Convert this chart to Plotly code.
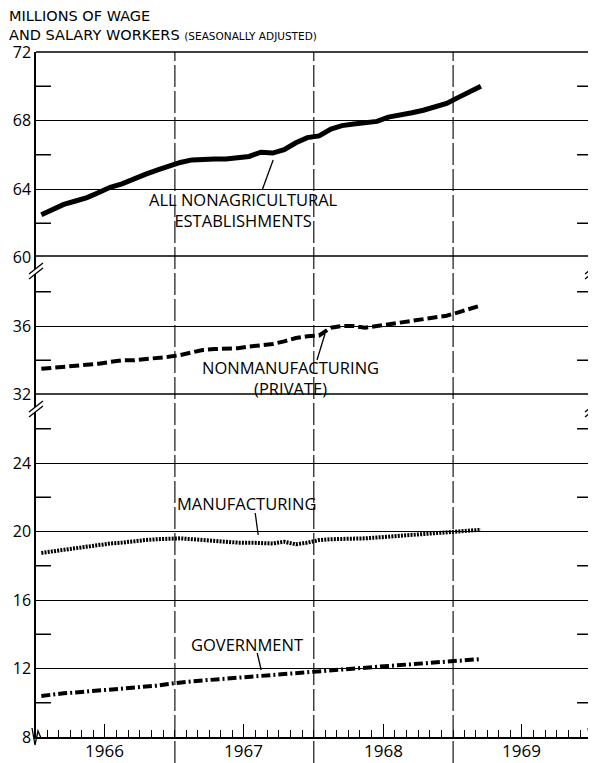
import pandas as pd
import plotly.graph_objects as go
from plotly.subplots import make_subplots

# ---- data (millions, monthly, Jan 1966 - Mar 1969) ----
months = (pd.date_range("1966-01-01", periods=39, freq="MS") + pd.Timedelta(days=14)).strftime("%Y-%m-%d").tolist()

total_nonag = [62.5, 62.8, 63.1, 63.3, 63.5, 63.8, 64.1, 64.3, 64.6, 64.85, 65.1, 65.35,
               65.55, 65.7, 65.75, 65.75, 65.75, 65.8, 65.9, 66.15, 66.1, 66.3, 66.7, 67.0,
               67.1, 67.5, 67.7, 67.8, 67.9, 67.95, 68.2, 68.3, 68.45, 68.6, 68.8, 69.0,
               69.35, 69.7, 70.0]
nonmfg_private = [33.5, 33.55, 33.6, 33.7, 33.75, 33.8, 33.9, 34.0, 34.0, 34.05, 34.1, 34.2,
                  34.3, 34.45, 34.6, 34.65, 34.65, 34.7, 34.8, 34.85, 34.95, 35.1, 35.3, 35.4,
                  35.45, 35.9, 36.0, 36.0, 35.9, 36.0, 36.1, 36.2, 36.3, 36.4, 36.5, 36.6,
                  36.8, 37.0, 37.2]
manufacturing = [18.75, 18.85, 18.95, 19.05, 19.1, 19.2, 19.3, 19.35, 19.45, 19.5, 19.55, 19.6,
                 19.6, 19.55, 19.5, 19.45, 19.4, 19.35, 19.35, 19.35, 19.3, 19.4, 19.25, 19.35,
                 19.5, 19.55, 19.55, 19.6, 19.6, 19.65, 19.7, 19.7, 19.75, 19.8, 19.85, 19.9,
                 19.95, 20.05, 20.1]
government = [10.4, 10.5, 10.55, 10.6, 10.65, 10.7, 10.75, 10.85, 10.9, 10.95, 11.0, 11.1,
              11.2, 11.25, 11.3, 11.35, 11.4, 11.45, 11.5, 11.55, 11.6, 11.65, 11.7, 11.8,
              11.85, 11.9, 11.95, 12.0, 12.05, 12.1, 12.15, 12.2, 12.25, 12.3, 12.35, 12.4,
              12.45, 12.5, 12.55]

top_ticks = [60, 64, 68, 72]
mid_ticks = [32, 36]
bot_ticks = [8, 12, 16, 20, 24]
top_minor = [62, 66, 70]
mid_minor = [34, 38]
bot_minor = [10, 14, 18, 22, 26]
year_bounds = ["1967-01-01", "1968-01-01", "1969-01-01"]
year_mids = ["1966-07-01", "1967-07-01", "1968-07-01", "1969-07-01"]
year_labels = ["1966", "1967", "1968", "1969"]

FONT = "Open Sans"
TFONT = "DejaVu Sans"
# page has an 8px body margin; plot area targets page pixels x 36..594, y 52..737
OFF = 8
W, H = 588, 755
L, R, T, B = 36 - OFF, 2, 52 - OFF, 26
PX0, PX1, PY0, PY1 = 36, 594, 52, 737

def px(x):
    return (x - PX0) / (PX1 - PX0)

def py(y):
    return (PY1 - y) / (PY1 - PY0)

fig = make_subplots(rows=3, cols=1, shared_xaxes=True, vertical_spacing=0,
                    row_heights=[12, 8, 20])

fig.add_trace(go.Scatter(x=months, y=total_nonag, mode="lines",
                         line=dict(color="black", width=5)), row=1, col=1)
fig.add_trace(go.Scatter(x=months, y=nonmfg_private, mode="lines",
                         line=dict(color="black", width=4, dash="10px,4px")), row=2, col=1)
fig.add_trace(go.Scatter(x=months, y=manufacturing, mode="lines",
                         line=dict(color="black", width=4, dash="2px,1.2px")), row=3, col=1)
fig.add_trace(go.Scatter(x=months, y=government, mode="lines",
                         line=dict(color="black", width=4, dash="9px,3px,2px,3px")), row=3, col=1)

xr = ["1966-01-01", "1970-01-01"]
for i in (1, 2):
    fig.update_xaxes(row=i, col=1, range=xr, showgrid=False, showline=False, zeroline=False,
                     showticklabels=False, ticks="")
fig.update_xaxes(row=3, col=1, range=xr, showgrid=False, showline=True, mirror=False,
                 linecolor="black", linewidth=1.5, zeroline=False,
                 ticks="inside", ticklen=13, tickwidth=1.3, tickcolor="black",
                 dtick="M12", tick0="1966-07-01", showticklabels=False,
                 minor=dict(ticks="inside", ticklen=7, tickwidth=1.3, tickcolor="black",
                            dtick="M1", tick0="1966-01-01"))

axstyle = dict(showgrid=True, gridcolor="black", gridwidth=1, showline=True, mirror=True,
               linecolor="black", linewidth=1.5, zeroline=False, ticks="",
               tickfont=dict(family=FONT, size=16, color="black"))
fig.update_yaxes(row=1, col=1, range=[60, 72], tickvals=top_ticks, **axstyle)
fig.update_yaxes(row=2, col=1, range=[32, 40], tickvals=mid_ticks, **axstyle)
fig.update_yaxes(row=3, col=1, range=[8, 28], tickvals=bot_ticks, **axstyle)

shapes = []
# panel boundary lines (top border, 60/40 and 32/28 joins)
for yy in (PY0, 256, 394):
    shapes.append(dict(type="line", xref="paper", yref="paper", x0=0, x1=1, y0=py(yy), y1=py(yy),
                       line=dict(color="black", width=1.3)))
# year dividers
for d in year_bounds:
    shapes.append(dict(type="line", xref="x3", yref="paper", x0=d, x1=d,
                       y0=py(763), y1=1, line=dict(color="black", width=1.1, dash="22px,4px")))
# minor ticks left/right
tick_len = 15 / (PX1 - PX0)
for yref, vals in (("y", top_minor), ("y2", mid_minor), ("y3", bot_minor)):
    for v in vals:
        shapes.append(dict(type="line", xref="paper", yref=yref, x0=0, x1=tick_len, y0=v, y1=v,
                           line=dict(color="black", width=1.5)))
        shapes.append(dict(type="line", xref="paper", yref=yref, x0=1 - tick_len, x1=1, y0=v, y1=v,
                           line=dict(color="black", width=1.5)))

# axis break marks
def brk(xc, yc):
    out = []
    pts = [(xc - 7, yc + 4), (xc + 7, yc - 7), (xc + 7, yc - 2), (xc - 7, yc + 9)]
    path = "M " + " L ".join(f"{px(a):.5f},{py(b):.5f}" for a, b in pts) + " Z"
    out.append(dict(type="path", xref="paper", yref="paper", path=path,
                    fillcolor="white", line=dict(width=0)))
    for dy in (0, 5):
        out.append(dict(type="line", xref="paper", yref="paper",
                        x0=px(xc - 7), y0=py(yc + 4 + dy), x1=px(xc + 7), y1=py(yc - 7 + dy),
                        line=dict(color="black", width=1.3)))
    return out

for yc in (270, 408):
    shapes += brk(PX0, yc)
    shapes += brk(PX1, yc)

# bottom corner squiggles
for xc in (PX0, PX1):
    path = "M " + " L ".join(f"{px(a):.5f},{py(b):.5f}" for a, b in
                             [(xc - 4, 728), (xc - 1, 745), (xc + 2, 731), (xc + 5, 738)])
    shapes.append(dict(type="path", xref="paper", yref="paper", path=path,
                       line=dict(color="black", width=1.3)))

# label pointers
for (x0, y0, x1, y1) in [(263, 190, 274, 160), (318, 360, 326, 334),
                         (256, 513, 259, 535), (258, 653, 262, 670)]:
    shapes.append(dict(type="line", xref="paper", yref="paper",
                       x0=px(x0), y0=py(y0), x1=px(x1), y1=py(y1),
                       line=dict(color="black", width=1.3)))

ann = []
def text(t, x, y, size=14, anchor="center", family=FONT, align="center"):
    ann.append(dict(text=t, xref="paper", yref="paper", x=px(x), y=py(y), showarrow=False,
                    xanchor=anchor, yanchor="middle", align=align,
                    font=dict(family=family, size=size, color="black")))

text("MILLIONS OF WAGE<br>AND SALARY WORKERS <span style='font-size:10.5px'>(SEASONALLY ADJUSTED)</span>",
     7, 25, 14.5, "left", TFONT, "left")
text("ALL NONAGRICULTURAL<br>ESTABLISHMENTS", 244, 209.5, 16.5)
text("NONMANUFACTURING<br>(PRIVATE)", 291, 378, 16.5)
text("MANUFACTURING", 247, 504, 16.5)
text("GOVERNMENT", 248, 644, 16.5)

for xm, lab in zip(year_mids, year_labels):
    ann.append(dict(text=lab, xref="x3", yref="paper", x=xm, y=py(750), showarrow=False,
                    xanchor="center", yanchor="middle",
                    font=dict(family=FONT, size=17, color="black")))

fig.update_layout(width=W, height=H, margin=dict(l=L, r=R, t=T, b=B),
                  paper_bgcolor="white", plot_bgcolor="white", showlegend=False,
                  shapes=shapes, annotations=ann)

fig.write_html("out.html")
